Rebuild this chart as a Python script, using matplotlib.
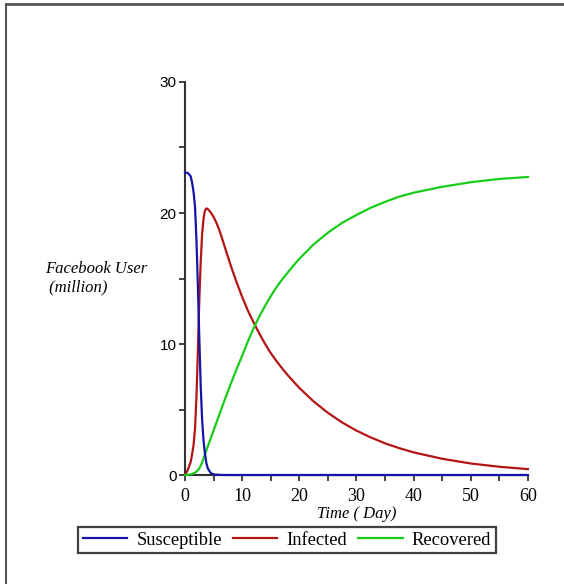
import matplotlib.pyplot as plt
from matplotlib.lines import Line2D

# values (million users vs day)
t_s = [0, 0.5, 1, 1.25, 1.5, 1.75, 2, 2.25, 2.5, 2.75, 3, 3.25, 3.5, 3.75, 4, 4.5, 5, 6, 7, 10, 20, 30, 40, 50, 60]
susceptible = [23.1, 23.05, 22.8, 22.3, 21.6, 20.5, 18.0, 14.5, 10.5, 6.8, 4.2, 2.6, 1.6, 0.9, 0.5, 0.15, 0.05, 0.01, 0, 0, 0, 0, 0, 0, 0]

t_i = [0, 0.5, 1, 1.25, 1.5, 1.75, 2, 2.25, 2.5, 2.75, 3, 3.25, 3.5, 3.75, 4, 4.5, 5, 5.5, 6, 6.5, 7, 8, 9, 10,
       11, 12, 13, 14, 15, 16, 17, 18, 20, 22.5, 25, 27.5, 30, 32.5, 35, 37.5, 40, 45, 50, 55, 60]
infected = [0, 0.4, 1.0, 1.6, 2.3, 3.5, 5.9, 9.4, 13.3, 16.3, 18.4, 19.6, 20.2, 20.35, 20.3, 20.05, 19.7, 19.25, 18.7, 18.05, 17.35, 16.0, 14.75, 13.6,
            12.55, 11.65, 10.8, 10.02, 9.31, 8.7, 8.14, 7.61, 6.65, 5.62, 4.75, 4.01, 3.39, 2.87, 2.42, 2.05, 1.73, 1.24, 0.88, 0.63, 0.45]

t_r = [0, 0.5, 1, 1.5, 2, 2.5, 3, 3.5, 4, 5, 6, 7, 8, 9, 10, 11, 12, 13, 14, 15, 16, 17, 18, 19, 20,
       22.5, 25, 27.5, 30, 32.5, 35, 37.5, 40, 45, 50, 55, 60]
recovered = [0, 0.02, 0.05, 0.12, 0.25, 0.5, 0.95, 1.6, 2.2, 3.4, 4.6, 5.8, 6.95, 8.05, 9.1, 10.2, 11.2, 12.1, 12.9, 13.65, 14.33, 14.93, 15.47, 16.0, 16.5,
             17.6, 18.5, 19.25, 19.85, 20.4, 20.85, 21.25, 21.55, 22.0, 22.35, 22.6, 22.75]

x_ticks = [0, 10, 20, 30, 40, 50, 60]
y_ticks = [0, 10, 20, 30]

fig = plt.figure(figsize=(5.64, 5.84), dpi=100)
ax = fig.add_axes([0.328, 0.1866, 0.608, 0.673])

ax.plot(t_s, susceptible, color='#1414a8', lw=1.6, label='Susceptible', clip_on=False, zorder=4)
ax.plot(t_i, infected, color='#b41414', lw=1.6, label='Infected', clip_on=False, zorder=3)
ax.plot(t_r, recovered, color='#18cc18', lw=1.6, label='Recovered', clip_on=False, zorder=3)

ax.set_xlim(0, 60)
ax.set_ylim(0, 30)
ax.set_xticks(x_ticks)
ax.set_yticks(y_ticks)
ax.set_xticks(range(5, 60, 10), minor=True)
ax.set_yticks(range(5, 30, 10), minor=True)
ax.tick_params(which='both', direction='out', length=4, width=1.2, color='#222')
ax.tick_params(axis='x', pad=5)
ax.tick_params(axis='y', pad=2)
for lab in ax.get_xticklabels():
    lab.set_fontfamily('Liberation Serif')
    lab.set_fontsize(13)
for lab in ax.get_yticklabels():
    lab.set_fontfamily('Liberation Sans')
    lab.set_fontsize(11)

for s in ['top', 'right']:
    ax.spines[s].set_visible(False)
for s in ['left', 'bottom']:
    ax.spines[s].set_color('#333')
    ax.spines[s].set_linewidth(1.5)

ax.set_xlabel('Time ( Day)', fontfamily='Liberation Serif', fontstyle='italic', fontsize=12, labelpad=1)
fig.text(0.08, 0.524, 'Facebook User\n (million)', fontfamily='Liberation Serif', fontstyle='italic',
         fontsize=12, ha='left', va='center', linespacing=1.2)

leg = fig.legend(loc='center', bbox_to_anchor=(0.509, 0.0753), ncol=3, frameon=True, fancybox=False,
                 prop={'family': 'Liberation Serif', 'size': 13.3}, handlelength=2.4, handletextpad=0.5,
                 columnspacing=0.6, borderpad=0.24, borderaxespad=0)
leg.get_frame().set_edgecolor('#111')
leg.get_frame().set_linewidth(1.6)

# outer frame (only top and left edges visible in the reference)
fig.add_artist(Line2D([0.011, 1.0], [0.993, 0.993], transform=fig.transFigure, color='#555', lw=2))
fig.add_artist(Line2D([0.011, 0.011], [0.0, 0.993], transform=fig.transFigure, color='#555', lw=1.5))

fig.savefig('out.png', dpi=100)
